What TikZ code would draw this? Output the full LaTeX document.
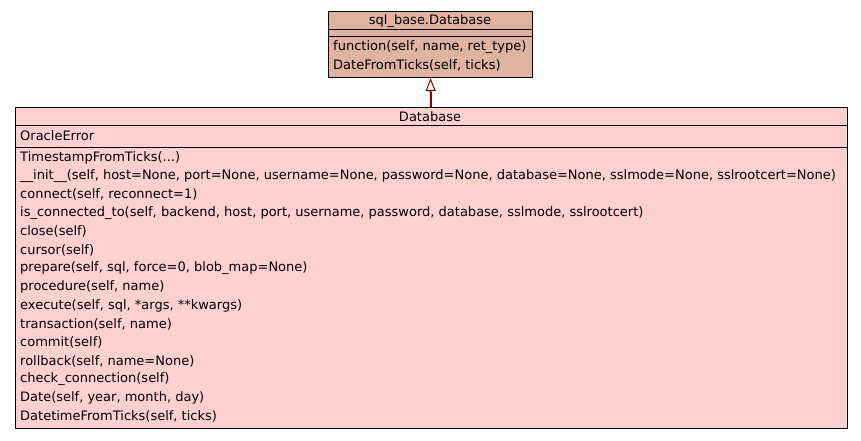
\documentclass[tikz,border=0pt]{standalone}
\usepackage{fontspec}
\setmainfont{DejaVu Sans}
\usetikzlibrary{arrows.meta}
\definecolor{basefill}{RGB}{224,178,160}
\definecolor{clsfill}{RGB}{255,208,208}
\definecolor{inh}{RGB}{139,0,0}
\begin{document}
\begin{tikzpicture}[x=1pt,y=-1pt,font=\fontsize{13}{15}\selectfont]
\useasboundingbox (0,0) rectangle (861,440);
\tikzset{
  box/.style={draw=black,line width=1pt,inner sep=0,anchor=north west},
  txt/.style={anchor=west,inner sep=0,yshift=-1.5pt},
  ttl/.style={inner sep=0,yshift=-1.5pt},
  sep/.style={draw=black,line width=1pt},
  inhline/.style={draw=inh,line width=2pt,-{Triangle[open,length=13pt,width=10pt,line width=1pt]}}
}
% base class
\node[box,fill=basefill,minimum width=204pt,minimum height=66pt] (base) at (328,11) {};
\node[ttl] (basetitle) at (430,19.5) {sql\_base.Database};
\draw[sep] (328,29) -- (532,29);
\draw[sep] (328,36) -- (532,36);
\node[txt] (bm1) at (333,46) {function(self, name, ret\_type)};
\node[txt] (bm2) at (333,64) {DateFromTicks(self, ticks)};
% derived class
\node[box,fill=clsfill,minimum width=832pt,minimum height=321pt] (cls) at (14.5,107) {};
\node[ttl] (clstitle) at (430,115) {Database};
\draw[sep] (14.5,125) -- (846.5,125);
\node[txt] (attr) at (20,134) {OracleError};
\draw[sep] (14.5,147) -- (846.5,147);
\node[txt] (m0) at (20,156) {TimestampFromTicks(...)};
\node[txt] (m1) at (20,174.5) {\_\_init\_\_(self, host=None, port=None, username=None, password=None, database=None, sslmode=None, sslrootcert=None)};
\node[txt] (m2) at (20,193) {connect(self, reconnect=1)};
\node[txt] (m3) at (20,211.5) {is\_connected\_to(self, backend, host, port, username, password, database, sslmode, sslrootcert)};
\node[txt] (m4) at (20,230) {close(self)};
\node[txt] (m5) at (20,248.5) {cursor(self)};
\node[txt] (m6) at (20,267) {prepare(self, sql, force=0, blob\_map=None)};
\node[txt] (m7) at (20,285.5) {procedure(self, name)};
\node[txt] (m8) at (20,304) {execute(self, sql, *args, **kwargs)};
\node[txt] (m9) at (20,322.5) {transaction(self, name)};
\node[txt] (m10) at (20,341) {commit(self)};
\node[txt] (m11) at (20,359.5) {rollback(self, name=None)};
\node[txt] (m12) at (20,378) {check\_connection(self)};
\node[txt] (m13) at (20,396.5) {Date(self, year, month, day)};
\node[txt] (m14) at (20,415) {DatetimeFromTicks(self, ticks)};
% inheritance
\draw[inhline] (cls.north) -- (base.south);
\end{tikzpicture}
\end{document}
